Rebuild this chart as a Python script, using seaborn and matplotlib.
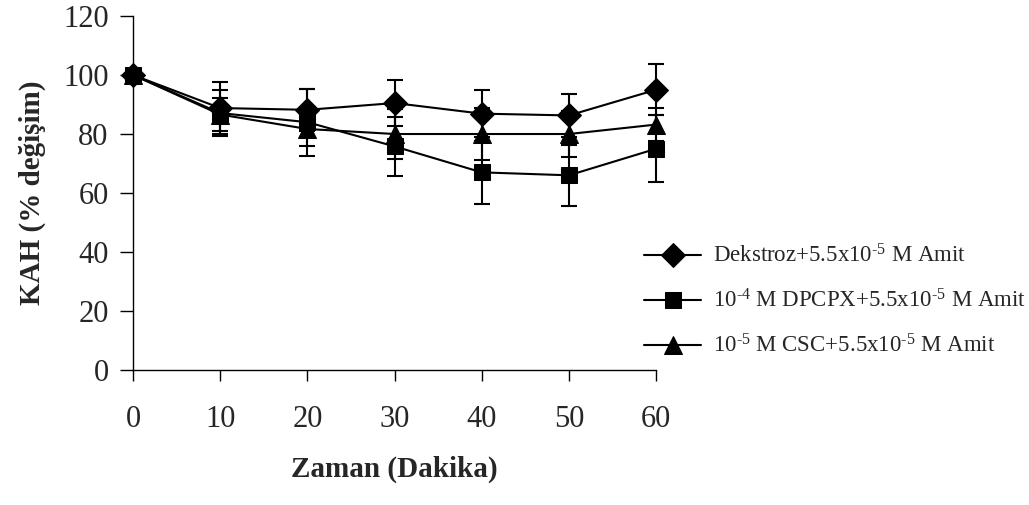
import matplotlib
matplotlib.use("Agg")
import matplotlib.pyplot as plt
import seaborn as sns
import pandas as pd

# Time points (minutes)
zaman = [0, 10, 20, 30, 40, 50, 60]

# Mean % change per group
dekstroz = [100, 88.8, 88.2, 90.5, 86.9, 86.3, 95.0]
dpcpx = [100, 87.1, 84.0, 75.8, 67.0, 66.0, 75.0]
csc = [100, 86.6, 81.7, 80.0, 80.0, 80.0, 83.2]

# Error (SEM) per group
dekstroz_err = [0, 8.7, 7.2, 7.7, 7.9, 7.4, 8.6]
dpcpx_err = [0, 7.7, 11.3, 9.9, 10.7, 10.3, 11.3]
csc_err = [0, 5.5, 5.9, 8.5, 8.8, 7.7, 5.7]

labels = [
    "Dekstroz+5.5x10$^{\\mathregular{\u20105}}$ M Amit",
    "10$^{\\mathregular{\u20104}}$ M DPCPX+5.5x10$^{\\mathregular{\u20105}}$ M Amit",
    "10$^{\\mathregular{\u20105}}$ M CSC+5.5x10$^{\\mathregular{\u20105}}$ M Amit",
]
y_ticks = [0, 20, 40, 60, 80, 100, 120]
x_ticks = [0, 10, 20, 30, 40, 50, 60]

sns.set_style("white")
plt.rcParams["font.family"] = ["Liberation Serif", "DejaVu Serif"]
plt.rcParams["mathtext.fontset"] = "custom"
plt.rcParams["mathtext.rm"] = "Liberation Serif"
plt.rcParams["mathtext.it"] = "Liberation Serif:italic"
plt.rcParams["mathtext.bf"] = "Liberation Serif:bold"

fig = plt.figure(figsize=(10.29, 5.05), dpi=100)
ax = fig.add_axes([0.1293, 0.2673, 0.5083, 0.701])

series = [
    (dekstroz, dekstroz_err, "D", 12, 3),
    (dpcpx, dpcpx_err, "s", 12, 5),
    (csc, csc_err, "^", 13.5, 4),
]

for (vals, errs, mk, ms, z), lab in zip(series, labels):
    df = pd.DataFrame({"zaman": zaman, "deger": vals})
    ax.errorbar(zaman, vals, yerr=errs, fmt="none", ecolor="black",
                elinewidth=1.5, capsize=5.5, capthick=1.5, zorder=2,
                clip_on=False)
    sns.lineplot(data=df, x="zaman", y="deger", ax=ax, color="black",
                 linewidth=1.5, marker=mk, markersize=ms,
                 markerfacecolor="black", markeredgecolor="black",
                 label=lab, zorder=z, clip_on=False)

ax.set_xlim(0, 60)
ax.set_ylim(0, 120)
ax.set_xticks(x_ticks)
ax.set_yticks(y_ticks)
ax.tick_params(axis="y", direction="out", length=9.5, width=1, pad=8,
               labelsize=22, left=True, color="black")
ax.tick_params(axis="x", direction="out", length=8, width=1, pad=17,
               labelsize=22, bottom=True, color="black")
for side in ["top", "right"]:
    ax.spines[side].set_visible(False)
for side in ["left", "bottom"]:
    ax.spines[side].set_color("black")
    ax.spines[side].set_linewidth(1)

ax.set_xlabel("Zaman (Dakika)", fontsize=21, fontweight="bold", labelpad=16)
ax.set_ylabel("KAH (% değişim)", fontsize=21, fontweight="bold", labelpad=12)

handles, lbls = ax.get_legend_handles_labels()
ax.legend(handles, lbls, loc="center left", bbox_to_anchor=(0.626, 0.404),
          bbox_transform=fig.transFigure, frameon=False, fontsize=16.5,
          handlelength=2.5, handletextpad=0.5, labelspacing=0.95,
          borderaxespad=0, borderpad=0)

fig.savefig("out.png", dpi=100)
